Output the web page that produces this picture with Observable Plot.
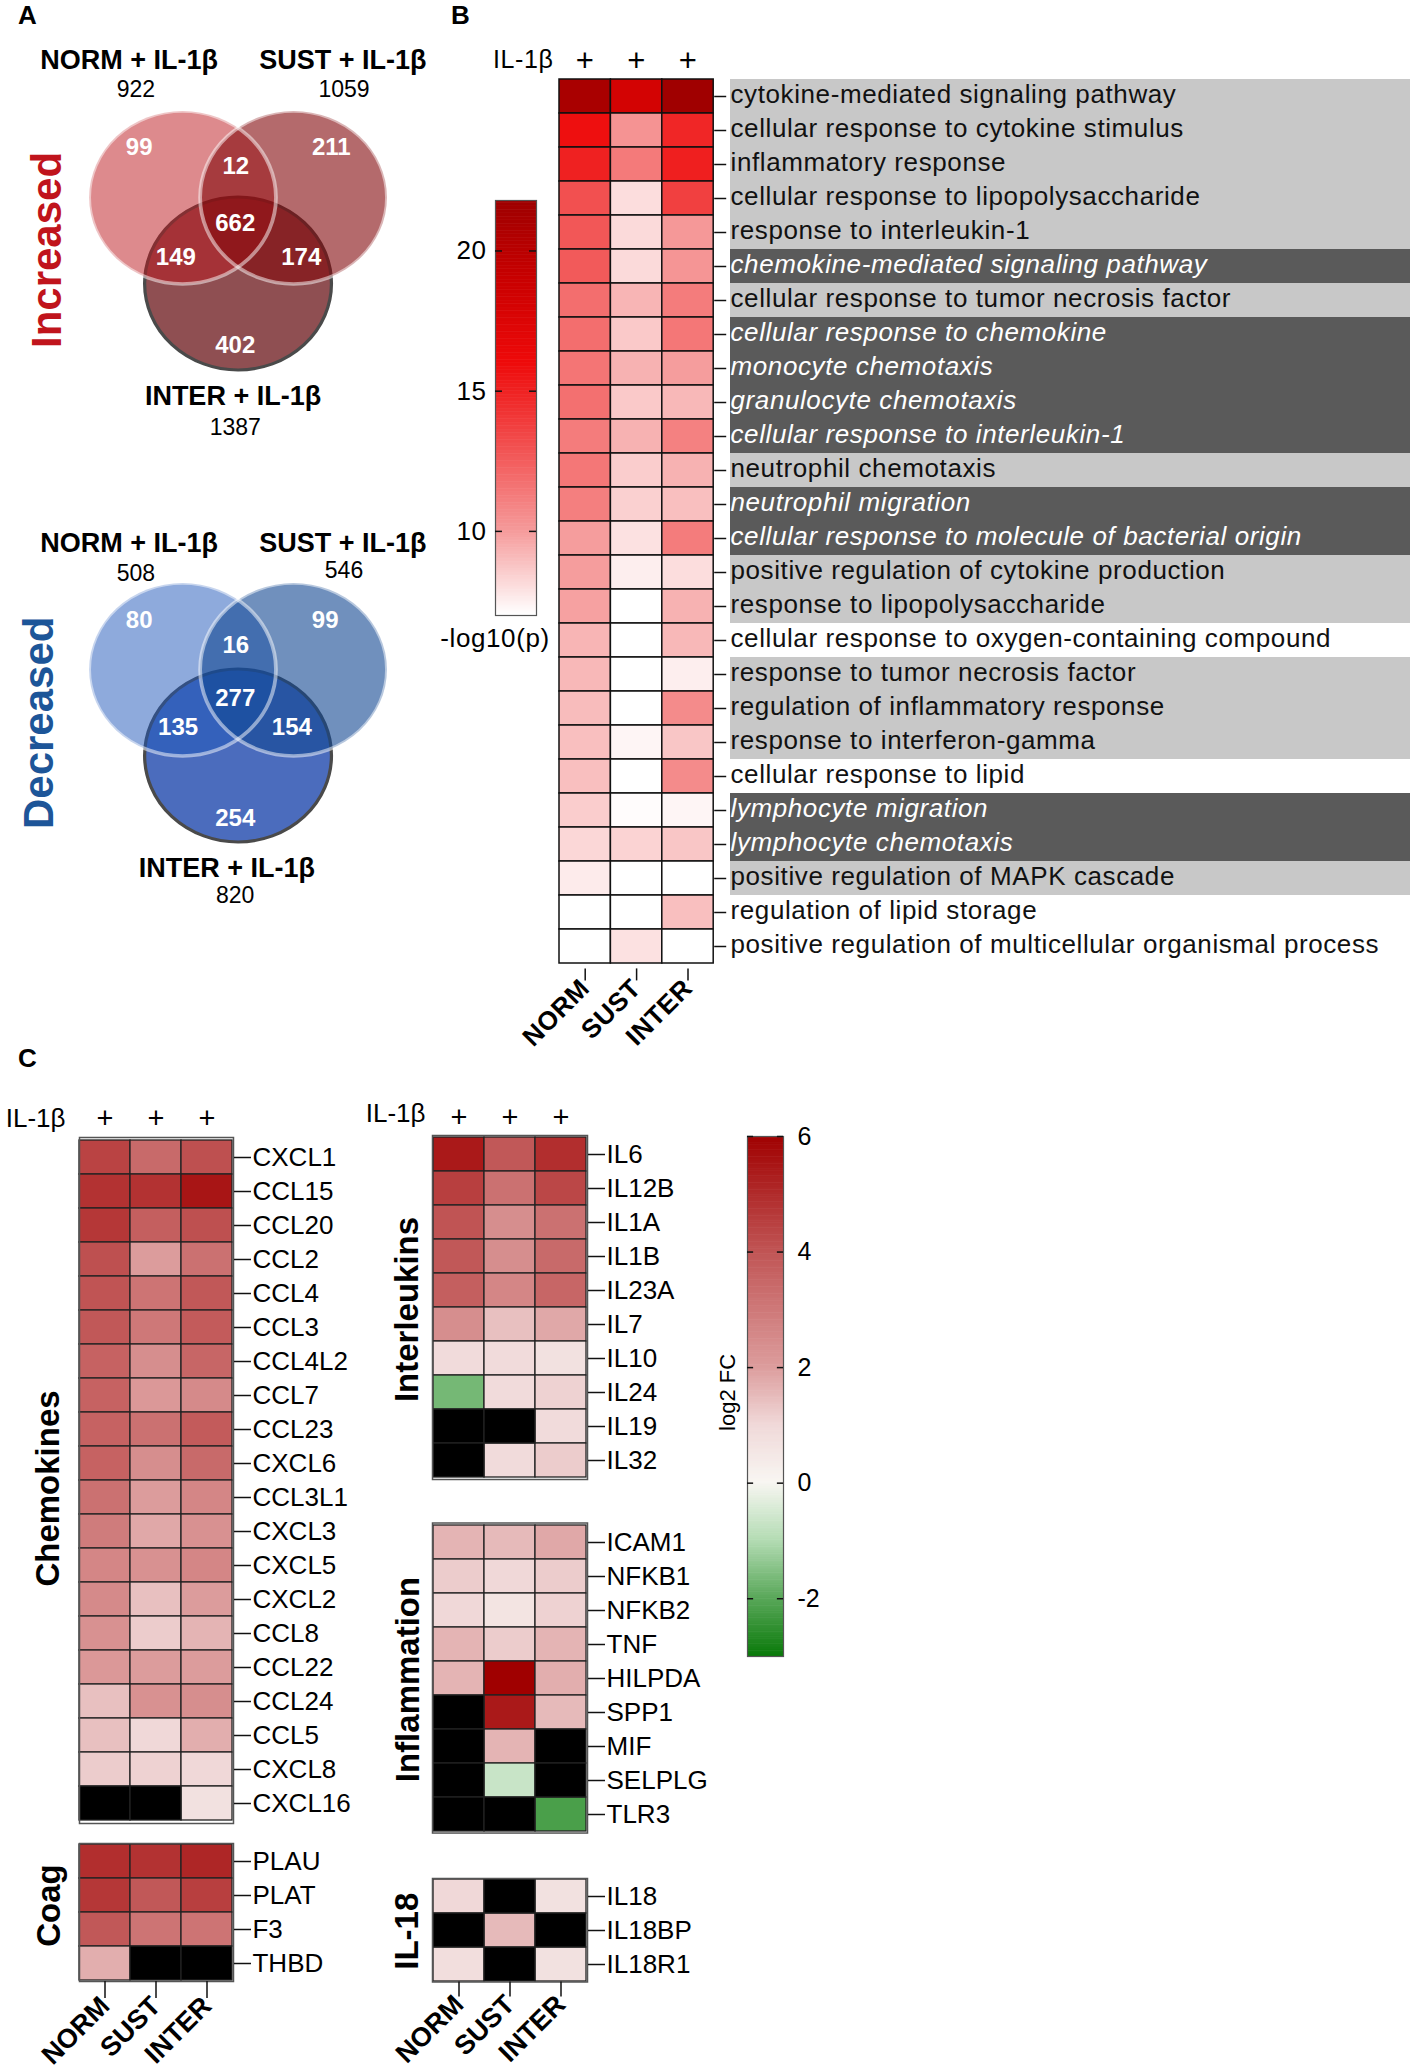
<!DOCTYPE html>
<html><head><meta charset="utf-8">
<script src="https://cdn.jsdelivr.net/npm/d3@7"></script>
<script src="https://cdn.jsdelivr.net/npm/@observablehq/plot@0.6"></script>
<style>
html,body{margin:0;padding:0;background:#fff;}
#fig{position:relative;width:1417px;height:2070px;overflow:hidden;background:#fff;font-family:"Liberation Sans",Arial,Helvetica,sans-serif;}
</style></head><body><div id="fig"></div>
<script>
// ---------------- DATA ----------------
// Panel A (Venn diagrams)
const vennSets = ["NORM + IL-1β", "SUST + IL-1β", "INTER + IL-1β"];
const vennKeys = ["NORM", "SUST", "INTER"];
const vennUpTotals = [922, 1059, 1387];
const vennDownTotals = [508, 546, 820];
const vennRegions = ["NORM", "SUST", "INTER", "NORM∩SUST", "NORM∩INTER", "SUST∩INTER", "all"];
const vennUpCounts = [99, 211, 402, 12, 149, 174, 662];
const vennDownCounts = [80, 99, 254, 16, 135, 154, 277];

// Panel B (GO terms, -log10(p))
const conditions = ["NORM", "SUST", "INTER"];
const goTerms = [
  "cytokine-mediated signaling pathway",
  "cellular response to cytokine stimulus",
  "inflammatory response",
  "cellular response to lipopolysaccharide",
  "response to interleukin-1",
  "chemokine-mediated signaling pathway",
  "cellular response to tumor necrosis factor",
  "cellular response to chemokine",
  "monocyte chemotaxis",
  "granulocyte chemotaxis",
  "cellular response to interleukin-1",
  "neutrophil chemotaxis",
  "neutrophil migration",
  "cellular response to molecule of bacterial origin",
  "positive regulation of cytokine production",
  "response to lipopolysaccharide",
  "cellular response to oxygen-containing compound",
  "response to tumor necrosis factor",
  "regulation of inflammatory response",
  "response to interferon-gamma",
  "cellular response to lipid",
  "lymphocyte migration",
  "lymphocyte chemotaxis",
  "positive regulation of MAPK cascade",
  "regulation of lipid storage",
  "positive regulation of multicellular organismal process"
];
const goHighlight = ["light","light","light","light","light","dark","light","dark","dark","dark","dark","light","dark","dark","light","light","none","light","light","light","none","dark","dark","light","none","none"];
const goNorm  = [21.0, 15.8, 15.0, 13.0, 12.7, 12.6, 11.8, 11.8, 11.5, 11.7, 11.2, 11.4, 11.1, 9.9, 9.9, 9.8, 9.2, 9.1, 9.0, 8.9, 8.9, 8.5, 8.2, 7.6, 7.0, 7.0];
const goSust  = [18.1, 10.3, 11.3, 8.0, 8.1, 8.1, 9.2, 8.6, 9.3, 8.6, 9.3, 8.5, 8.4, 7.9, 7.5, 7.0, 7.0, 7.0, 7.0, 7.3, 7.0, 7.1, 8.3, 7.0, 7.0, 7.9];
const goInter = [21.6, 14.8, 15.1, 13.7, 10.1, 10.2, 11.2, 11.4, 9.9, 9.1, 11.0, 9.3, 8.9, 11.2, 8.0, 9.3, 9.1, 7.5, 10.6, 8.7, 10.6, 7.3, 8.7, 7.0, 8.9, 7.0];
const pTicks = [10, 15, 20];

// Panel C (log2 FC; null = not detected)
const chemokineGenes = ["CXCL1","CCL15","CCL20","CCL2","CCL4","CCL3","CCL4L2","CCL7","CCL23","CXCL6","CCL3L1","CXCL3","CXCL5","CXCL2","CCL8","CCL22","CCL24","CCL5","CXCL8","CXCL16"];
const chemokineNorm  = [4.4, 4.8, 4.7, 4.1, 4.0, 3.9, 3.6, 3.6, 3.6, 3.6, 3.2, 2.9, 2.6, 2.5, 2.3, 2.1, 1.4, 1.4, 1.2, null];
const chemokineSust  = [3.4, 4.8, 3.7, 2.0, 3.1, 3.0, 2.4, 2.1, 3.2, 2.4, 2.0, 1.8, 2.3, 1.4, 1.2, 2.0, 2.3, 1.0, 1.1, null];
const chemokineInter = [4.1, 5.5, 4.1, 3.2, 3.9, 3.8, 3.5, 2.5, 3.8, 3.4, 2.6, 2.3, 2.6, 2.0, 1.6, 2.0, 2.4, 1.7, 1.0, 0.7];
const coagGenes = ["PLAU","PLAT","F3","THBD"];
const coagNorm  = [4.9, 4.7, 3.9, 1.7];
const coagSust  = [4.8, 3.9, 3.1, null];
const coagInter = [5.1, 4.5, 3.1, null];
const interleukinGenes = ["IL6","IL12B","IL1A","IL1B","IL23A","IL7","IL10","IL24","IL19","IL32"];
const interleukinNorm  = [5.4, 4.5, 4.0, 3.9, 3.7, 2.4, 0.9, -1.7, null, null];
const interleukinSust  = [3.9, 3.2, 2.4, 2.4, 2.6, 1.4, 0.9, 0.9, null, 0.9];
const interleukinInter = [4.9, 4.3, 3.2, 3.4, 3.5, 1.8, 0.7, 1.1, 0.9, 1.2];
const inflammationGenes = ["ICAM1","NFKB1","NFKB2","TNF","HILPDA","SPP1","MIF","SELPLG","TLR3"];
const inflammationNorm  = [1.6, 1.2, 1.0, 1.6, 1.6, null, null, null, null];
const inflammationSust  = [1.5, 1.0, 0.6, 1.2, 6.0, 5.4, 1.6, -0.7, null];
const inflammationInter = [1.8, 1.2, 1.1, 1.6, 1.7, 1.5, null, null, -2.2];
const il18Genes = ["IL18","IL18BP","IL18R1"];
const il18Norm  = [1.0, null, 0.8];
const il18Sust  = [null, 1.5, null];
const il18Inter = [0.7, null, 0.7];
const fcTicks = [-2, 0, 2, 4, 6];

// ---------------- STYLES / LAYOUT ----------------
const W = 1417, H = 2070;
const FONT = '"Liberation Sans", Arial, Helvetica, sans-serif';
const fig = document.getElementById("fig");
const colorB = {type: "linear", domain: [7, 10, 13, 16, 19, 22],
  range: ["#ffffff", "#f59a9a", "#f25050", "#ee0a0a", "#c80000", "#9a0000"], interpolate: "rgb"};
const colorC = {type: "linear", domain: [-3, -2, -1, 0, 1, 2, 4, 6],
  range: ["#0b7a0b", "#5aa85a", "#b4dcb4", "#f8f6f2", "#f0d8d8", "#dc9c9c", "#c05454", "#a00000"], interpolate: "rgb"};

function add(svg, width = W, extra = {}) {
  Object.assign(svg.style, {position: "absolute", left: "0px", top: "0px", background: "transparent",
    maxWidth: "none", overflow: "visible", fontFamily: FONT, width: width + "px", height: H + "px"}, extra);
  fig.appendChild(svg);
  return svg;
}

// ---------------- PANEL A ----------------
const topLayout = {
  regions: {NORM: [-1.78, -0.58], SUST: [1.68, -0.58], INTER: [-0.05, 1.72], "NORM∩SUST": [-0.04, -0.36],
            "NORM∩INTER": [-1.12, 0.70], "SUST∩INTER": [1.14, 0.70], all: [-0.05, 0.30]},
  labels: {NORM: [-1.96, -1.60], SUST: [1.89, -1.60], INTER: [-0.09, 2.31]},
  totals: {NORM: [-1.84, -1.25], SUST: [1.91, -1.25], INTER: [-0.05, 2.68]},
  side: [-3.44, 0.61]
};
const bottomLayout = {
  regions: {NORM: [-1.78, -0.57], SUST: [1.57, -0.57], INTER: [-0.05, 1.73], "NORM∩SUST": [-0.04, -0.28],
            "NORM∩INTER": [-1.08, 0.67], "SUST∩INTER": [0.97, 0.67], all: [-0.05, 0.33]},
  labels: {NORM: [-1.96, -1.47], SUST: [1.89, -1.47], INTER: [-0.2, 2.31]},
  totals: {NORM: [-1.84, -1.12], SUST: [1.91, -1.15], INTER: [-0.05, 2.63]},
  side: [-3.57, 0.62]
};

function drawVenn({y0, totals, counts, pal, layout, side, sideColor}) {
  const s = 1.08, Wc = 420, xL = 182, xR = 293, yU = 86, r = 86.5;
  const circ = {NORM: {x: -1, y: 0}, SUST: {x: 1, y: 0}, INTER: {x: 0, y: 1}};
  const common = {height: H, marginTop: y0, marginBottom: H - (y0 + yU),
    x: {domain: [-1, 1], axis: null}, y: {domain: [0, 1], reverse: true, axis: null}};
  const cPlot = Plot.plot({...common, width: Wc, marginLeft: xL / s, marginRight: Wc - xR / s,
    marks: [
      Plot.dot([circ.INTER], {x: "x", y: "y", r, fill: pal.INTER, stroke: "#4a4a4a", strokeWidth: 3}),
      Plot.dot([circ.NORM], {x: "x", y: "y", r, fill: pal.NORM, fillOpacity: 0.5, stroke: "none"}),
      Plot.dot([circ.SUST], {x: "x", y: "y", r, fill: pal.SUST, fillOpacity: 0.6, stroke: "none"}),
      Plot.dot([circ.NORM, circ.SUST], {x: "x", y: "y", r, fill: "none", stroke: "white", strokeOpacity: 0.5, strokeWidth: 3.5})
    ]});
  cPlot.setAttribute("width", Wc * s);
  cPlot.setAttribute("preserveAspectRatio", "none");
  add(cPlot, Wc * s);

  const regions = vennRegions.map((reg, i) => ({reg, count: counts[i]}));
  const sets = vennKeys.map((k, i) => ({k, name: vennSets[i], total: totals[i]}));
  add(Plot.plot({...common, width: W, marginLeft: xL, marginRight: W - xR,
    marks: [
      Plot.text(regions, {x: d => layout.regions[d.reg][0], y: d => layout.regions[d.reg][1], text: d => String(d.count),
        fill: "white", fontWeight: "bold", fontSize: 24}),
      Plot.text(sets, {x: d => layout.labels[d.k][0], y: d => layout.labels[d.k][1], text: "name", fontWeight: "bold", fontSize: 27}),
      Plot.text(sets, {x: d => layout.totals[d.k][0], y: d => layout.totals[d.k][1], text: d => String(d.total), fontSize: 23}),
      Plot.text([side], {x: layout.side[0], y: layout.side[1], rotate: -90, fill: sideColor, fontWeight: "bold", fontSize: 42})
    ]}));
}

drawVenn({y0: 197, totals: vennUpTotals, counts: vennUpCounts, layout: topLayout, side: "Increased", sideColor: "#c0141c",
  pal: {INTER: "#8f4f52", NORM: "#bb151b", SUST: "#82070a"}});
drawVenn({y0: 669, totals: vennDownTotals, counts: vennDownCounts, layout: bottomLayout, side: "Decreased", sideColor: "#1d5598",
  pal: {INTER: "#4b6cbd", NORM: "#1d55b9", SUST: "#114691"}});

// ---------------- PANEL B ----------------
{
  const left = 559, top = 74, colW = 51.4, rowH = 34.4;
  const right = left + 3 * colW, bottom = top + goTerms.length * rowH;
  const labelX = (730 - left) / colW, bandEnd = (1410 - left) / colW;
  const series = [goNorm, goSust, goInter];
  const cells = goTerms.flatMap((term, i) => conditions.map((c, j) => ({term, col: j, v: series[j][i]})));
  const rows = goTerms.map((term, i) => ({term, hl: goHighlight[i]}));
  add(Plot.plot({
    width: W, height: H, marginLeft: left, marginRight: W - right, marginTop: top, marginBottom: H - bottom,
    x: {domain: [0, 3], axis: null, label: null}, y: {domain: goTerms, padding: 0, axis: null, label: null}, color: colorB,
    marks: [
      Plot.barX(rows.filter(d => d.hl === "light"), {x1: labelX, x2: bandEnd, y: "term", fill: "#c8c8c8"}),
      Plot.barX(rows.filter(d => d.hl === "dark"), {x1: labelX, x2: bandEnd, y: "term", fill: "#5a5a5a"}),
      Plot.barX(cells, {x1: "col", x2: d => d.col + 1, y: "term", fill: "v", stroke: "#111", strokeWidth: 1.5}),
      Plot.axisY({anchor: "right", tickSize: 12, fill: "none", stroke: "#111", strokeWidth: 1.5, label: null}),
      Plot.text(rows.filter(d => d.hl !== "dark"), {x: labelX, y: "term", dy: -2, text: "term", textAnchor: "start", fontSize: 26, fill: "#111"}),
      Plot.text(rows.filter(d => d.hl === "dark"), {x: labelX, y: "term", dy: -2, text: "term", textAnchor: "start", fontSize: 26, fill: "white", fontStyle: "italic"}),
      Plot.axisX({anchor: "bottom", ticks: [0.5, 1.5, 2.5], tickFormat: d => conditions[Math.floor(d)], tickRotate: -45,
        tickSize: 12, tickPadding: 3, fontWeight: "bold", fontSize: 26, label: null, stroke: "#111", strokeWidth: 1.5}),
      Plot.text(conditions, {x: (d, i) => i + 0.5, frameAnchor: "top", lineAnchor: "middle", dy: -13, text: () => "+", fontSize: 31}),
      Plot.text(["IL-1β"], {x: 0, frameAnchor: "top", lineAnchor: "middle", dx: -6, dy: -15, textAnchor: "end", fontSize: 25})
    ]
  }), W, {letterSpacing: "0.6px"});

  // colour bar -log10(p)
  const steps = d3.range(7, 21.8, 0.05);
  add(Plot.plot({
    width: W, height: H, marginLeft: 495, marginRight: W - 536, marginTop: 200, marginBottom: H - 615,
    x: {domain: [0, 1], axis: null}, y: {domain: [7, 21.8], axis: null, label: null}, color: colorB,
    marks: [
      Plot.rect(steps, {x1: 0, x2: 1, y1: d => d, y2: d => Math.min(d + 0.07, 21.8), fill: d => d}),
      Plot.frame({stroke: "#555", strokeWidth: 1.2}),
      Plot.ruleY(pTicks, {x1: 0, x2: 0.17, stroke: "#111", strokeWidth: 1.5}),
      Plot.ruleY(pTicks, {x1: 0.83, x2: 1, stroke: "#111", strokeWidth: 1.5}),
      Plot.axisY({anchor: "left", ticks: pTicks, tickSize: 0, tickPadding: 9, fontSize: 26, label: null}),
      Plot.text(["-log10(p)"], {x: 0.5, y: 7, dx: -21, dy: 13, lineAnchor: "top", fontSize: 26})
    ]
  }), W, {letterSpacing: "0.6px"});
}

// ---------------- PANEL C ----------------
function drawHeat(g) {
  const right = g.left + 3 * g.colW, bottom = g.top + g.genes.length * g.rowH;
  const cells = g.genes.flatMap((gene, i) => conditions.map((cond, j) => ({gene, cond, v: g.values[j][i]})));
  const marks = [
    Plot.cell(cells.filter(d => d.v != null), {x: "cond", y: "gene", fill: "v", stroke: "#222", strokeWidth: 1.3, inset: 0}),
    Plot.cell(cells.filter(d => d.v == null), {x: "cond", y: "gene", fill: "#000", stroke: "#222", strokeWidth: 1.3, inset: 0}),
    Plot.frame({stroke: "#555", strokeWidth: 1.5}),
    Plot.axisY({anchor: "right", tickSize: 17, tickPadding: 2, fontSize: 26, label: null, stroke: "#111", strokeWidth: 1.5}),
    Plot.text([g.label], {frameAnchor: "left", textAnchor: "middle", lineAnchor: "middle", dx: g.labelDx, dy: g.labelDy,
      rotate: -90, fontWeight: "bold", fontSize: 33})
  ];
  if (g.header) marks.push(
    Plot.text(conditions, {x: d => d, frameAnchor: "top", lineAnchor: "middle", dy: g.header.plusDy, text: () => "+", fontSize: 29}),
    Plot.text(["IL-1β"], {frameAnchor: "top-left", lineAnchor: "middle", dx: g.header.dx, dy: g.header.dy, textAnchor: "end", fontSize: 26})
  );
  if (g.axis) marks.push(Plot.axisX({anchor: "bottom", tickRotate: -45, tickSize: g.axis, tickPadding: 3, fontSize: 27,
    fontWeight: "bold", label: null, stroke: "#111", strokeWidth: 1.5}));
  add(Plot.plot({
    width: W, height: H, marginLeft: g.left, marginRight: W - right, marginTop: g.top, marginBottom: H - bottom,
    x: {domain: conditions, padding: 0, axis: null, label: null}, y: {domain: g.genes, padding: 0, axis: null, label: null},
    color: colorC, marks
  }));
}

drawHeat({genes: chemokineGenes, values: [chemokineNorm, chemokineSust, chemokineInter], left: 79, top: 1137, colW: 51.33, rowH: 34.3,
  label: "Chemokines", labelDx: -31, labelDy: 8, header: {plusDy: -19, dx: -14, dy: -18.5}});
drawHeat({genes: coagGenes, values: [coagNorm, coagSust, coagInter], left: 79, top: 1843, colW: 51.33, rowH: 34.5,
  label: "Coag", labelDx: -30, labelDy: -7, axis: 17});
drawHeat({genes: interleukinGenes, values: [interleukinNorm, interleukinSust, interleukinInter], left: 432, top: 1135, colW: 51.67, rowH: 34.4,
  label: "Interleukins", labelDx: -25, labelDy: 2, header: {plusDy: -18, dx: -7, dy: -21.5}});
drawHeat({genes: inflammationGenes, values: [inflammationNorm, inflammationSust, inflammationInter], left: 432, top: 1522.5, colW: 51.67, rowH: 34.45,
  label: "Inflammation", labelDx: -24, labelDy: 1.5});
drawHeat({genes: il18Genes, values: [il18Norm, il18Sust, il18Inter], left: 432, top: 1878, colW: 51.67, rowH: 34.5,
  label: "IL-18", labelDx: -25, labelDy: 1, axis: 15});

// colour bar log2 FC
{
  const steps = d3.range(-3, 6, 0.03);
  add(Plot.plot({
    width: W, height: H, marginLeft: 747, marginRight: W - 783, marginTop: 1136, marginBottom: H - 1656,
    x: {domain: [0, 1], axis: null}, y: {domain: [-3, 6], axis: null, label: null}, color: colorC,
    marks: [
      Plot.rect(steps, {x1: 0, x2: 1, y1: d => d, y2: d => Math.min(d + 0.04, 6), fill: d => d}),
      Plot.frame({stroke: "#555", strokeWidth: 1.2}),
      Plot.ruleY(fcTicks, {x1: 0, x2: 0.17, stroke: "#111", strokeWidth: 1.5}),
      Plot.ruleY(fcTicks, {x1: 0.83, x2: 1, stroke: "#111", strokeWidth: 1.5}),
      Plot.axisY({anchor: "right", ticks: fcTicks, tickSize: 0, tickPadding: 14, fontSize: 25, label: null,
        tickFormat: d => d < 0 ? "-" + (-d) : String(d)}),
      Plot.text(["log2 FC"], {x: 0, y: 1.57, dx: -20, rotate: -90, fontSize: 22})
    ]
  }));
}

// ---------------- PANEL LETTERS ----------------
const panelLetters = ["A", "B", "C"];
const letterPos = [[27, 15], [460, 15], [27, 1058]];
add(Plot.plot({
  width: W, height: H, margin: 0, x: {domain: [0, W], axis: null}, y: {domain: [0, H], reverse: true, axis: null},
  marks: [Plot.text(panelLetters, {x: (d, i) => letterPos[i][0], y: (d, i) => letterPos[i][1], fontWeight: "bold", fontSize: 26})]
}));
</script></body></html>
